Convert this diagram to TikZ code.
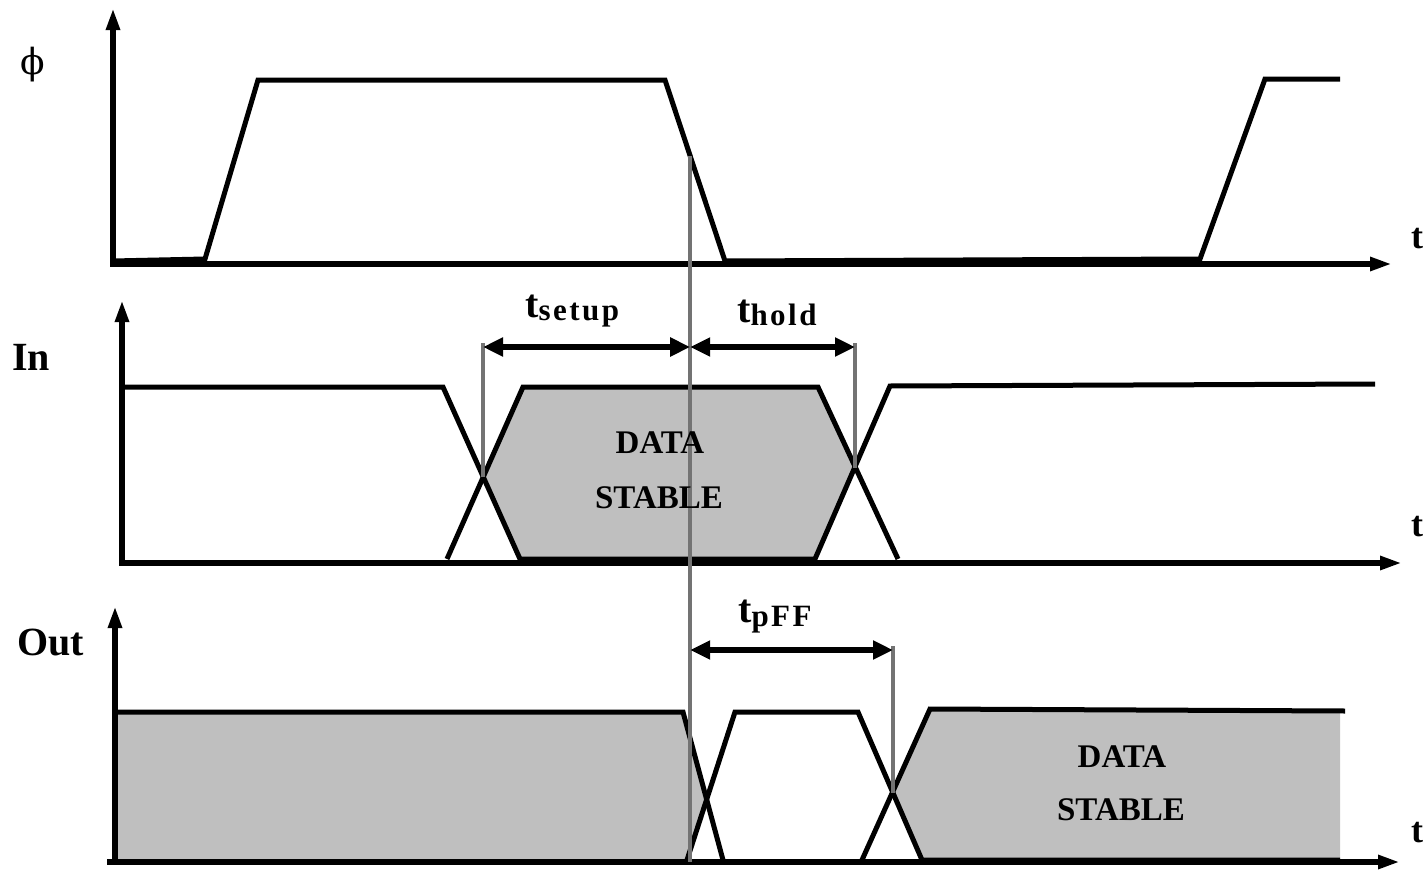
\documentclass[tikz,border=0pt]{standalone}
\usepackage{fontspec}
\setmainfont{Liberation Serif}
\newfontfamily\phifont{DejaVu Serif}
\usetikzlibrary{arrows.meta,calc}
\newcommand{\subtxt}[2]{\raisebox{-#1}{\fontsize{31}{36}\selectfont\addfontfeature{LetterSpace=8}#2}}
\begin{document}
\begin{tikzpicture}[x=1pt,y=-1pt,
  axis/.style={line width=6pt,
    {Triangle[length=22pt,width=13pt]}-{Triangle[length=22pt,width=13pt]}},
  axisx/.style={line width=6pt},
  sig/.style={line width=5pt, line join=miter},
  stable/.style={fill=gray!50, draw=none},
  guide/.style={line width=3.5pt, draw=black!55},
  dim/.style={line width=6pt,
    {Triangle[length=20pt,width=18pt]}-{Triangle[length=20pt,width=18pt]}},
  biglab/.style={font=\fontsize{40}{48}\selectfont\bfseries, inner sep=0pt},
  tlab/.style={font=\fontsize{36}{42}\selectfont\bfseries, inner sep=0pt, anchor=base},
  datalab/.style={font=\fontsize{33}{40}\selectfont\bfseries, inner sep=0pt, anchor=base},
  dimlab/.style={font=\fontsize{40}{48}\selectfont\bfseries, inner sep=0pt, anchor=base west},
]
\useasboundingbox (0,0) rectangle (1428,870);

% ---------- clock phi ----------
\coordinate (pO) at (113,264);
\coordinate (pY) at (113,8);
\coordinate (pX) at (1392,264);
\coordinate (p1) at (113,261);
\coordinate (p2) at (205,259);
\coordinate (p3) at (258,80);
\coordinate (p4) at (665,80);
\coordinate (p5) at (725,261);
\coordinate (p6) at (1200,259);
\coordinate (p7) at (1265,79);
\coordinate (p8) at (1340,79);
\coordinate (clk) at ($(p4)!0.42!(p5)$);

% ---------- input In ----------
\coordinate (iO) at (122,563);
\coordinate (iY) at (122,300);
\coordinate (iX) at (1402,563);
\coordinate (a1) at (122,387);
\coordinate (a2) at (443,387);
\coordinate (a3) at (520,559);
\coordinate (a4) at (815,559);
\coordinate (a5) at (890,386);
\coordinate (a6) at (1375,384);
\coordinate (b1) at (447,559);
\coordinate (b2) at (523,387);
\coordinate (b3) at (818,387);
\coordinate (b4) at (898,559);
\coordinate (xL) at (483,477);
\coordinate (xR) at (855,468);

% ---------- output Out ----------
\coordinate (oO) at (115,862);
\coordinate (oY) at (115,606);
\coordinate (oX) at (1400,862);
\coordinate (oL) at (107,862);
\coordinate (c1) at (115,712);
\coordinate (c2) at (683,712);
\coordinate (c3) at (723,860);
\coordinate (d1) at (687,860);
\coordinate (d2) at (735,712);
\coordinate (d3) at (858,712);
\coordinate (d4) at (922,860);
\coordinate (d5) at (1340,860);
\coordinate (e1) at (862,860);
\coordinate (e2) at (930,709);
\coordinate (e3) at (1345,711);
\coordinate (e4) at (1340,711);
\coordinate (yL) at (706,799);
\coordinate (yR) at (893,793);
\coordinate (c0) at (115,860);

% ---------- data-stable fills ----------
\fill[stable] (xL) -- (b2) -- (b3) -- (xR) -- (a4) -- (a3) -- cycle;
\fill[stable] (c1) -- (c2) -- (yL) -- (d1) -- (c0) -- cycle;
\fill[stable] (yR) -- (e2) -- (e4) -- (d5) -- (d4) -- cycle;

% ---------- waveforms ----------
\draw[sig] (p1) -- (p2) -- (p3) -- (p4) -- (p5) -- (p6) -- (p7) -- (p8);
\draw[sig] (a1) -- (a2) -- (a3) -- (a4) -- (a5) -- (a6);
\draw[sig] (b1) -- (b2) -- (b3) -- (b4);
\draw[sig] (c1) -- (c2) -- (c3);
\draw[sig] (d1) -- (d2) -- (d3) -- (d4) -- (d5);
\draw[sig] (e1) -- (e2) -- (e3);

% ---------- axes ----------
\draw[axis] (pY) -- (pO) -- (pX);
\draw[axis] (iY) -- (iO) -- (iX);
\draw[axis] (oY) -- (oO) -- (oX);
\draw[axisx] (oL) -- (oO);

% ---------- timing guides ----------
\coordinate (gS) at (483,343);
\coordinate (gH) at (855,343);
\coordinate (gP) at (893,646);
\coordinate (gB) at (clk |- oO);
\draw[guide] (clk) -- (gB);
\draw[guide] (gS) -- (xL);
\draw[guide] (gH) -- (xR);
\draw[guide] (gP) -- (yR);

% ---------- dimension arrows ----------
\coordinate (s0) at (483,347);
\coordinate (s1) at (clk |- s0);
\coordinate (s2) at (855,347);
\coordinate (q0) at (clk |- 0,650);
\coordinate (q1) at (893,650);
\draw[dim] (s0) -- (s1);
\draw[dim] (s1) -- (s2);
\draw[dim] (q0) -- (q1);

% ---------- labels ----------
\node[inner sep=0pt, font=\fontsize{36}{42}\selectfont\phifont] (phi) at (33,65) {ϕ};
\node[biglab, anchor=base west] (inlab) at (12,370) {In};
\node[biglab, anchor=base west] (outlab) at (17,655) {Out};
\node[tlab] (t1) at (1417,248) {t};
\node[tlab] (t2) at (1417,536) {t};
\node[tlab] (t3) at (1417,842) {t};
\node[dimlab] (tsu) at (525,317) {t\subtxt{3pt}{setup}};
\node[dimlab] (tho) at (737,322) {t\subtxt{3pt}{hold}};
\node[dimlab] (tpf) at (738,622) {t\subtxt{4pt}{pFF}};
\node[datalab] (d1a) at (660,453) {DATA};
\node[datalab] (d1b) at (659,508) {STABLE};
\node[datalab] (d2a) at (1122,767) {DATA};
\node[datalab] (d2b) at (1121,820) {STABLE};
\end{tikzpicture}
\end{document}
